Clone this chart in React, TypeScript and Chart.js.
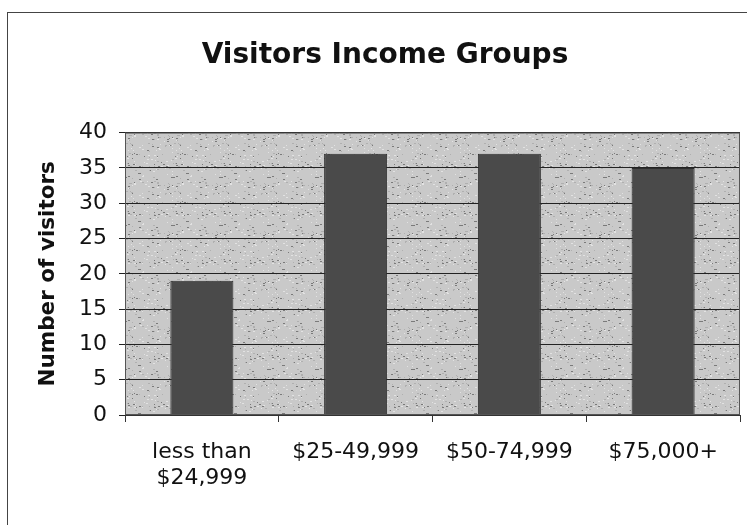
import React, { useEffect, useRef } from "react";
import { Chart, registerables } from "chart.js";

Chart.register(...registerables);

const categories: (string | string[])[] = [["less than", "$24,999"], "$25-49,999", "$50-74,999", "$75,000+"];
const visitors: number[] = [19, 37, 37, 35];
const yTicks: number[] = [0, 5, 10, 15, 20, 25, 30, 35, 40];

const FONT = "'DejaVu Sans', 'Liberation Sans', Arial, sans-serif";

function makePattern(ctx: CanvasRenderingContext2D): CanvasPattern | string {
  const c = document.createElement("canvas");
  c.width = 48;
  c.height = 48;
  const g = c.getContext("2d");
  if (!g) return "#c6c6c6";
  g.fillStyle = "#c9c9c9";
  g.fillRect(0, 0, 48, 48);
  let s = 12345;
  const next = () => {
    s = (s * 1103515245 + 12345) & 0x7fffffff;
    return s / 0x7fffffff;
  };
  for (let i = 0; i < 140; i++) {
    const x = Math.floor(next() * 48);
    const y = Math.floor(next() * 48);
    const v = next();
    g.fillStyle = v < 0.35 ? "#7a7a7a" : v < 0.7 ? "#e2e2e2" : "#b0b0b0";
    g.fillRect(x, y, 1 + Math.floor(next() * 2), 1);
  }
  return ctx.createPattern(c, "repeat") || "#c6c6c6";
}

const plotBg = {
  id: "plotBg",
  beforeDraw(chart: any) {
    const { ctx, chartArea } = chart;
    if (!chartArea) return;
    ctx.save();
    ctx.fillStyle = makePattern(ctx);
    ctx.fillRect(chartArea.left, chartArea.top, chartArea.right - chartArea.left, chartArea.bottom - chartArea.top);
    ctx.restore();
  },
  afterDraw(chart: any) {
    const { ctx, chartArea } = chart;
    ctx.save();
    ctx.strokeStyle = "#555";
    ctx.lineWidth = 1;
    ctx.strokeRect(chartArea.left + 0.5, chartArea.top + 0.5, chartArea.right - chartArea.left - 1, chartArea.bottom - chartArea.top - 1);
    ctx.restore();
  },
};

export default function App() {
  const ref = useRef<HTMLCanvasElement | null>(null);
  useEffect(() => {
    if (!ref.current) return;
    const chart = new Chart(ref.current, {
      type: "bar",
      data: {
        labels: categories as any,
        datasets: [
          {
            data: visitors,
            backgroundColor: "#4a4a4a",
            borderColor: "#2e2e2e",
            borderWidth: 1,
            categoryPercentage: 1,
            barPercentage: 0.41,
          },
        ],
      },
      options: {
        animation: false,
        responsive: false,
        maintainAspectRatio: false,
        layout: { padding: { left: 30, right: 7, top: 0, bottom: 0 } },
        plugins: {
          legend: { display: false },
          tooltip: { enabled: false },
          title: {
            display: true,
            text: "Visitors Income Groups",
            color: "#111",
            font: { family: FONT, size: 28, weight: "bold" },
            padding: { top: 39, bottom: 60 },
          },
        },
        scales: {
          x: {
            grid: { display: true, drawOnChartArea: false, drawTicks: true, tickLength: 7, color: "#333", offset: true },
            border: { display: true, color: "#333" },
            ticks: { color: "#111", font: { family: FONT, size: 22, lineHeight: 1.18 }, padding: 17, maxRotation: 0, autoSkip: false },
            afterFit: (s: any) => {
              s.height = 110;
            },
          },
          y: {
            min: 0,
            max: 40,
            afterBuildTicks: (s: any) => {
              s.ticks = yTicks.map((v) => ({ value: v }));
            },
            grid: { color: "#222", lineWidth: 1, drawTicks: true, tickLength: 6 },
            border: { display: true, color: "#333" },
            ticks: { color: "#111", font: { family: FONT, size: 22 }, padding: 12 },
            title: {
              display: true,
              text: "Number of visitors",
              color: "#111",
              font: { family: FONT, size: 21.5, weight: "bold" },
              padding: { top: 6, bottom: 0 },
            },
            afterFit: (s: any) => {
              s.width = 95;
            },
          },
        },
      },
      plugins: [plotBg],
    });
    return () => chart.destroy();
  }, []);
  return (
    <div style={{ position: "fixed", left: 0, top: 0, width: 747, height: 525, background: "#fff" }}>
      <canvas ref={ref} width={747} height={525} style={{ display: "block" }} />
      <div
        style={{
          position: "absolute",
          left: 7,
          top: 12,
          width: 740,
          height: 513,
          borderLeft: "1px solid #444",
          borderTop: "1px solid #444",
          pointerEvents: "none",
        }}
      />
    </div>
  );
}
